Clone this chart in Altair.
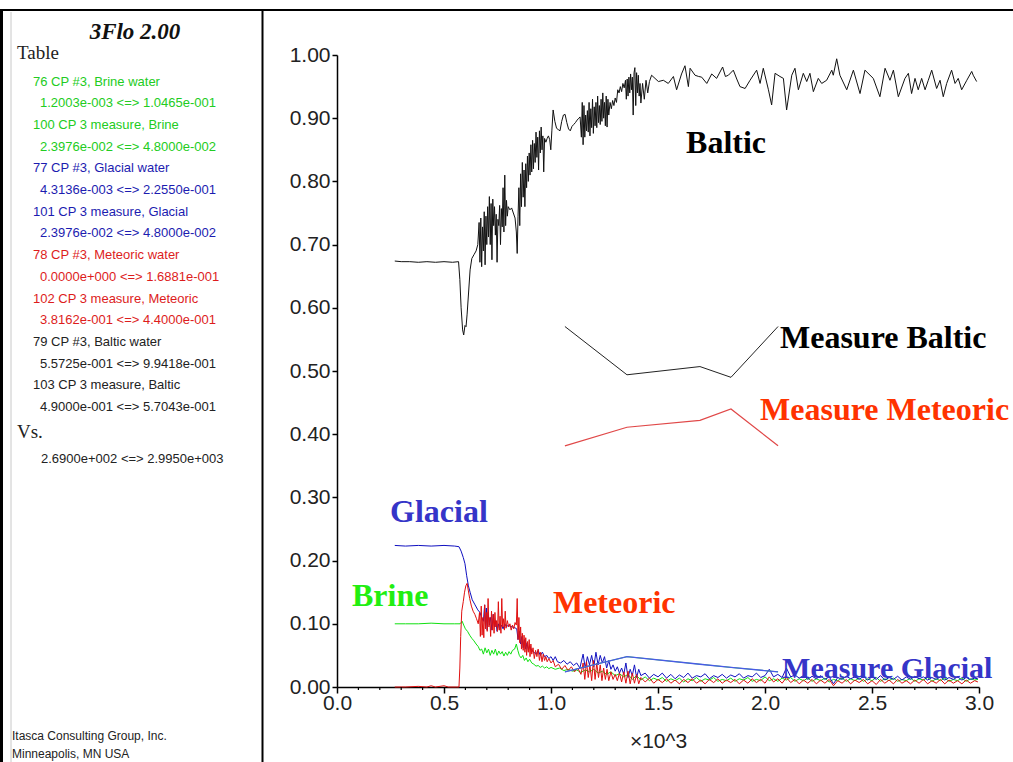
import altair as alt
import pandas as pd

# ---------------- data (x in thousands, y fraction) ----------------
baltic_x = [0.270,0.300,0.340,0.380,0.420,0.460,0.500,0.540,0.568,
            0.574,0.580,0.587,0.592,0.598,0.603,0.608,0.615,0.622,0.630,0.640,0.650,0.658,
            0.664,0.668,0.672,0.676,0.680,0.684,0.688,0.692,0.696,0.700,0.704,0.708,0.712,0.716,0.720,0.724,0.728,0.732,0.736,0.740,0.744,0.748,0.752,0.756,0.760,0.764,0.768,0.772,0.776,0.780,0.784,0.788,0.792,0.796,0.800,0.808,0.816,0.824,0.832,0.838,0.842,0.846,0.850,0.854,0.858,0.862,0.866,0.870,0.874,0.878,0.882,0.886,0.890,0.894,0.898,0.902,0.906,0.910,0.914,0.918,0.922,0.926,0.930,0.934,0.938,0.942,0.946,0.950,0.954,0.958,0.962,0.966,0.970,0.976,0.982,0.988,0.994,0.999,1.004,1.010,1.018,1.026,1.034,1.042,1.050,1.058,1.066,1.074,1.082,1.090,1.098,1.106,1.114,1.122,1.130,1.136,
            1.142,1.146,1.150,1.154,1.158,1.162,1.166,1.170,1.174,1.178,1.182,1.186,1.190,1.194,1.198,1.202,1.206,1.210,1.214,1.218,1.222,1.226,1.230,1.234,1.238,1.242,1.246,1.250,1.254,1.258,1.262,1.266,1.270,1.276,1.282,1.288,1.294,1.300,1.306,1.312,1.318,1.324,1.330,1.336,1.342,1.348,1.352,1.356,1.360,1.364,1.368,1.372,1.376,1.380,1.384,1.388,1.392,1.396,1.400,1.404,1.408,1.412,1.416,
            1.420,1.428,1.436,1.444,1.452,1.460,1.470,1.486,1.502,1.525,1.548,1.572,1.587,1.610,1.626,1.642,1.650,1.673,1.690,1.704,1.728,1.751,1.774,1.802,1.815,1.829,1.852,1.868,1.883,1.907,1.930,1.961,1.977,1.992,2.016,2.031,2.047,2.070,2.086,2.101,2.125,2.140,2.156,2.179,2.195,2.210,2.226,2.249,2.265,2.288,2.312,2.319,2.335,2.350,2.382,2.413,2.444,2.467,2.506,2.537,2.561,2.584,2.600,2.623,2.654,2.670,2.685,2.701,2.716,2.732,2.748,2.763,2.779,2.802,2.818,2.833,2.849,2.872,2.888,2.903,2.919,2.943,2.966,2.973,2.989]
baltic_y = [0.674,0.673,0.673,0.672,0.673,0.672,0.673,0.672,0.673,
            0.645,0.600,0.565,0.557,0.572,0.570,0.590,0.625,0.660,0.678,0.684,0.690,0.700,
            0.735,0.672,0.742,0.665,0.728,0.690,0.752,0.668,0.745,0.700,0.760,0.712,0.776,0.700,0.765,0.676,0.772,0.730,0.760,0.715,0.748,0.672,0.740,0.730,0.762,0.700,0.757,0.728,0.790,0.720,0.810,0.730,0.770,0.745,0.760,0.755,0.758,0.750,0.742,0.720,0.686,0.745,0.790,0.730,0.812,0.760,0.830,0.775,0.818,0.760,0.828,0.790,0.840,0.800,0.845,0.810,0.858,0.815,0.865,0.820,0.860,0.830,0.878,0.838,0.870,0.818,0.880,0.845,0.886,0.850,0.872,0.815,0.868,0.862,0.868,0.872,0.866,0.850,0.880,0.913,0.895,0.884,0.882,0.880,0.895,0.905,0.906,0.893,0.883,0.880,0.887,0.890,0.893,0.897,0.900,0.902,
            0.870,0.925,0.858,0.920,0.870,0.905,0.880,0.912,0.878,0.925,0.872,0.915,0.885,0.930,0.876,0.918,0.888,0.925,0.885,0.935,0.893,0.920,0.890,0.930,0.895,0.940,0.900,0.925,0.888,0.935,0.886,0.930,0.905,0.925,0.915,0.928,0.920,0.932,0.925,0.945,0.940,0.950,0.942,0.955,0.948,0.960,0.930,0.962,0.935,0.965,0.940,0.970,0.945,0.965,0.905,0.972,0.980,0.920,0.972,0.940,0.968,0.935,0.955,
            0.924,0.955,0.930,0.960,0.940,0.958,0.968,0.963,0.958,0.960,0.955,0.966,0.945,0.970,0.983,0.950,0.979,0.968,0.966,0.965,0.955,0.970,0.963,0.981,0.966,0.968,0.976,0.962,0.950,0.947,0.960,0.976,0.955,0.979,0.945,0.921,0.971,0.966,0.963,0.913,0.968,0.979,0.945,0.971,0.958,0.971,0.942,0.963,0.955,0.960,0.976,0.968,0.994,0.968,0.945,0.976,0.939,0.976,0.963,0.934,0.979,0.960,0.976,0.934,0.963,0.971,0.939,0.963,0.945,0.963,0.945,0.960,0.976,0.947,0.960,0.934,0.955,0.976,0.955,0.963,0.945,0.960,0.974,0.968,0.958]

glacial_x = [0.270,0.320,0.380,0.440,0.500,0.550,0.570,0.580,0.590,0.598,0.606,0.614,0.622,0.632,0.645,0.658,0.668,0.676,0.684,0.690,0.694,0.698,0.702,0.706,0.712,0.718,0.724,0.730,0.736,0.742,0.748,0.754,0.760,0.768,0.776,0.784,0.792,0.800,0.810,0.820,0.830,0.840,0.846,0.852,0.858,0.864,0.870,0.876,0.882,0.888,0.894,0.900,0.910,0.920,0.930,0.940,0.950,0.960,0.970,0.980,0.990,1.000,1.010,1.020,1.030,1.045,1.060,1.075,1.090,1.105,1.120,1.135,1.150,1.160,1.170,1.180,1.190,1.200,1.210,1.220,1.230,1.240,1.250,1.260,1.270,1.280,1.290,1.300,1.310,1.320,1.330,1.340,1.350,1.360,1.370,1.380,1.390,1.400,1.410,1.420,1.440,1.460,1.480,1.500,1.520,1.540,1.560,1.580,1.600,1.620,1.640,1.660,1.680,1.700,1.720,1.740,1.760,1.780,1.800,1.820,1.840,1.860,1.880,1.900,1.920,1.940,1.960,1.980,2.000,2.020,2.040,2.060,2.080,2.100,2.120,2.140,2.160,2.180,2.200,2.220,2.240,2.260,2.280,2.300,2.320,2.340,2.360,2.380,2.400,2.420,2.440,2.460,2.480,2.500,2.520,2.540,2.560,2.580,2.600,2.620,2.640,2.660,2.680,2.700,2.720,2.740,2.760,2.780,2.800,2.820,2.840,2.860,2.880,2.900,2.920,2.940,2.960,2.980,2.995]
glacial_y = [0.224,0.223,0.224,0.223,0.224,0.223,0.222,0.215,0.205,0.195,0.176,0.160,0.150,0.138,0.130,0.122,0.118,0.110,0.104,0.130,0.095,0.125,0.090,0.118,0.098,0.110,0.090,0.115,0.095,0.105,0.088,0.100,0.090,0.098,0.092,0.100,0.095,0.098,0.096,0.095,0.094,0.092,0.075,0.088,0.068,0.080,0.062,0.075,0.060,0.070,0.058,0.065,0.058,0.055,0.052,0.058,0.050,0.055,0.048,0.050,0.045,0.048,0.042,0.048,0.040,0.038,0.042,0.036,0.040,0.034,0.038,0.030,0.052,0.030,0.048,0.035,0.050,0.032,0.055,0.035,0.050,0.038,0.048,0.030,0.042,0.028,0.035,0.025,0.032,0.022,0.030,0.020,0.038,0.015,0.028,0.018,0.035,0.015,0.028,0.018,0.022,0.014,0.020,0.016,0.022,0.014,0.020,0.013,0.019,0.015,0.022,0.014,0.018,0.016,0.021,0.013,0.018,0.015,0.020,0.014,0.019,0.016,0.021,0.014,0.018,0.016,0.022,0.015,0.018,0.028,0.016,0.020,0.015,0.030,0.016,0.019,0.014,0.018,0.012,0.017,0.013,0.018,0.012,0.016,0.005,0.015,0.012,0.017,0.013,0.016,0.012,0.017,0.011,0.016,0.012,0.018,0.011,0.015,0.012,0.017,0.011,0.016,0.012,0.017,0.013,0.016,0.011,0.015,0.012,0.016,0.011,0.015,0.012,0.016,0.011,0.015,0.012,0.014,0.013]

brine_x = [0.270,0.320,0.380,0.440,0.500,0.550,0.575,0.585,0.592,0.600,0.610,0.620,0.630,0.640,0.650,0.660,0.668,0.676,0.684,0.692,0.700,0.708,0.716,0.724,0.732,0.740,0.748,0.756,0.764,0.772,0.780,0.788,0.796,0.804,0.812,0.820,0.830,0.838,0.845,0.852,0.860,0.868,0.876,0.884,0.892,0.900,0.910,0.920,0.930,0.940,0.950,0.960,0.970,0.980,0.990,1.000,1.020,1.040,1.060,1.080,1.100,1.120,1.140,1.160,1.180,1.200,1.220,1.240,1.260,1.280,1.300,1.320,1.340,1.360,1.380,1.400,1.420,1.440,1.460,1.480,1.500,1.520,1.540,1.560,1.580,1.600,1.620,1.640,1.660,1.680,1.700,1.720,1.740,1.760,1.780,1.800,1.820,1.840,1.860,1.880,1.900,1.920,1.940,1.960,1.980,2.000,2.020,2.040,2.060,2.080,2.100,2.120,2.140,2.160,2.180,2.200,2.220,2.240,2.260,2.280,2.300,2.320,2.340,2.360,2.380,2.400,2.420,2.440,2.460,2.480,2.500,2.520,2.540,2.560,2.580,2.600,2.620,2.640,2.660,2.680,2.700,2.720,2.740,2.760,2.780,2.800,2.820,2.840,2.860,2.880,2.900,2.920,2.940,2.960,2.980,2.995]
brine_y = [0.100,0.100,0.100,0.101,0.100,0.100,0.100,0.104,0.098,0.092,0.088,0.082,0.077,0.073,0.068,0.064,0.058,0.060,0.052,0.062,0.054,0.060,0.050,0.058,0.052,0.060,0.050,0.057,0.052,0.056,0.049,0.055,0.050,0.056,0.052,0.058,0.060,0.068,0.058,0.050,0.046,0.050,0.042,0.046,0.040,0.044,0.038,0.036,0.033,0.034,0.031,0.033,0.030,0.032,0.029,0.031,0.028,0.030,0.026,0.028,0.025,0.027,0.023,0.027,0.024,0.028,0.022,0.025,0.020,0.024,0.018,0.021,0.016,0.020,0.012,0.018,0.011,0.016,0.010,0.014,0.011,0.015,0.009,0.013,0.010,0.014,0.008,0.013,0.010,0.015,0.009,0.013,0.011,0.015,0.009,0.012,0.010,0.014,0.009,0.013,0.011,0.015,0.009,0.012,0.010,0.016,0.010,0.013,0.009,0.014,0.011,0.015,0.009,0.013,0.010,0.014,0.009,0.013,0.010,0.014,0.008,0.012,0.010,0.014,0.009,0.013,0.010,0.014,0.009,0.013,0.010,0.015,0.009,0.013,0.010,0.014,0.009,0.012,0.010,0.014,0.009,0.013,0.011,0.015,0.009,0.013,0.010,0.014,0.009,0.012,0.010,0.014,0.009,0.013,0.011,0.012]

meteoric_x = [0.270,0.320,0.380,0.420,0.440,0.460,0.500,0.520,0.560,0.570,0.574,0.578,0.583,0.590,0.596,0.602,0.608,0.614,0.620,0.628,0.636,0.644,0.652,0.660,0.666,0.670,0.674,0.678,0.682,0.686,0.690,0.694,0.698,0.702,0.706,0.710,0.714,0.718,0.722,0.726,0.730,0.734,0.738,0.742,0.746,0.750,0.754,0.758,0.762,0.766,0.770,0.774,0.778,0.782,0.786,0.790,0.796,0.802,0.808,0.814,0.820,0.826,0.832,0.838,0.842,0.846,0.850,0.854,0.858,0.862,0.866,0.870,0.874,0.878,0.882,0.886,0.890,0.894,0.898,0.902,0.906,0.910,0.916,0.922,0.928,0.934,0.940,0.946,0.952,0.958,0.964,0.970,0.976,0.982,0.990,1.000,1.010,1.020,1.035,1.050,1.065,1.080,1.095,1.110,1.125,1.140,1.150,1.158,1.166,1.174,1.182,1.190,1.198,1.206,1.214,1.222,1.230,1.238,1.246,1.254,1.262,1.270,1.280,1.290,1.300,1.310,1.320,1.330,1.340,1.350,1.360,1.370,1.380,1.390,1.400,1.410,1.420,1.440,1.460,1.480,1.500,1.520,1.540,1.560,1.580,1.600,1.620,1.640,1.660,1.680,1.700,1.720,1.740,1.760,1.780,1.800,1.820,1.840,1.860,1.880,1.900,1.920,1.940,1.960,1.980,2.000,2.020,2.040,2.060,2.080,2.100,2.120,2.140,2.160,2.180,2.200,2.220,2.240,2.260,2.280,2.300,2.320,2.340,2.360,2.380,2.400,2.420,2.440,2.460,2.480,2.500,2.520,2.540,2.560,2.580,2.600,2.620,2.640,2.660,2.680,2.700,2.720,2.740,2.760,2.780,2.800,2.820,2.840,2.860,2.880,2.900,2.920,2.940,2.960,2.980,2.995]
meteoric_y = [0.000,0.000,0.001,0.000,0.002,0.000,0.002,0.000,0.000,0.000,0.030,0.080,0.120,0.135,0.150,0.160,0.164,0.152,0.140,0.128,0.120,0.115,0.108,0.100,0.118,0.080,0.128,0.082,0.110,0.078,0.130,0.092,0.118,0.088,0.140,0.095,0.110,0.080,0.120,0.090,0.115,0.085,0.118,0.095,0.105,0.088,0.135,0.090,0.112,0.085,0.140,0.095,0.108,0.090,0.120,0.093,0.105,0.095,0.100,0.090,0.098,0.092,0.102,0.098,0.140,0.075,0.110,0.070,0.095,0.060,0.085,0.058,0.082,0.055,0.078,0.050,0.072,0.055,0.075,0.048,0.068,0.052,0.062,0.045,0.058,0.048,0.060,0.042,0.055,0.040,0.052,0.042,0.048,0.040,0.045,0.038,0.042,0.032,0.036,0.028,0.034,0.026,0.032,0.024,0.030,0.020,0.038,0.012,0.040,0.015,0.035,0.010,0.042,0.012,0.038,0.015,0.035,0.010,0.030,0.012,0.028,0.010,0.024,0.012,0.020,0.010,0.022,0.008,0.024,0.006,0.025,0.005,0.022,0.006,0.020,0.005,0.015,0.008,0.014,0.006,0.012,0.007,0.013,0.006,0.011,0.005,0.012,0.007,0.013,0.006,0.011,0.005,0.012,0.007,0.013,0.006,0.011,0.007,0.012,0.005,0.011,0.006,0.013,0.007,0.012,0.006,0.016,0.008,0.013,0.006,0.015,0.007,0.012,0.005,0.011,0.006,0.012,0.005,0.011,0.006,0.012,0.002,0.010,0.006,0.012,0.005,0.011,0.007,0.012,0.005,0.010,0.004,0.012,0.006,0.011,0.005,0.012,0.006,0.010,0.005,0.011,0.006,0.012,0.005,0.010,0.006,0.012,0.005,0.011,0.006,0.010,0.005,0.011,0.006,0.010,0.008]

measure_x = [1.065, 1.355, 1.696, 1.841, 2.061]
measure_baltic = [0.5704, 0.494, 0.507, 0.490, 0.5704]
measure_meteoric = [0.3816, 0.411, 0.422, 0.440, 0.3816]
measure_glacial = [0.024, 0.048, 0.036, 0.031, 0.024]
measure_brine = [0.024, 0.048, 0.036, 0.031, 0.024]

x_ticks = [0.0, 0.5, 1.0, 1.5, 2.0, 2.5, 3.0]
x_minor = [0.1,0.2,0.3,0.4,0.6,0.7,0.8,0.9,1.1,1.2,1.3,1.4,1.6,1.7,1.8,1.9,2.1,2.2,2.3,2.4,2.6,2.7,2.8,2.9]
y_ticks = [0.0, 0.1, 0.2, 0.3, 0.4, 0.5, 0.6, 0.7, 0.8, 0.9, 1.0]

ann_text = ["Baltic", "Measure Baltic", "Measure Meteoric", "Glacial", "Brine", "Meteoric", "Measure Glacial"]
ann_x = [1.631, 2.070, 1.977, 0.248, 0.070, 1.009, 2.080]
ann_y = [0.845, 0.536, 0.4225, 0.261, 0.128, 0.117, 0.0142]
ann_size = [32, 32, 32, 32, 32, 32, 30]
ann_color = ["#000000", "#000000", "#ff3300", "#3535c8", "#22ee11", "#ff3300", "#3535c8"]

panel_lines = [
    ("76 CP #3, Brine water", "#22cc22"),
    ("1.2003e-003 <=> 1.0465e-001", "#22cc22"),
    ("100 CP 3 measure, Brine", "#22cc22"),
    ("2.3976e-002 <=> 4.8000e-002", "#22cc22"),
    ("77 CP #3, Glacial water", "#1c1cb0"),
    ("4.3136e-003 <=> 2.2550e-001", "#1c1cb0"),
    ("101 CP 3 measure, Glacial", "#1c1cb0"),
    ("2.3976e-002 <=> 4.8000e-002", "#1c1cb0"),
    ("78 CP #3, Meteoric water", "#dd1c1c"),
    ("0.0000e+000 <=> 1.6881e-001", "#dd1c1c"),
    ("102 CP 3 measure, Meteoric", "#dd1c1c"),
    ("3.8162e-001 <=> 4.4000e-001", "#dd1c1c"),
    ("79 CP #3, Baltic water", "#222222"),
    ("5.5725e-001 <=> 9.9418e-001", "#222222"),
    ("103 CP 3 measure, Baltic", "#222222"),
    ("4.9000e-001 <=> 5.7043e-001", "#222222"),
]

# ---------------- layout ----------------
W, H = 642, 632
PL, PT = 337, 55

xs = alt.Scale(domain=[0, 3], nice=False, zero=False)
ys = alt.Scale(domain=[0, 1], nice=False, zero=False)
AX_FONT = "Liberation Sans"
x_axis = alt.Axis(values=x_ticks, format=".1f", title="×10^3", grid=False, tickSize=6,
                  labelPadding=-1, labelFont=AX_FONT, labelFontSize=21, labelColor="#222222",
                  titleFont=AX_FONT, titleFontSize=21, titleFontWeight="normal", titleColor="#222222",
                  titlePadding=17, domainColor="#000000", tickColor="#000000", labelFlush=False,
                  labelOverlap=False, domainWidth=1.5, tickWidth=1.5)
y_axis = alt.Axis(values=y_ticks, format=".2f", title=None, grid=False, tickSize=5,
                  labelPadding=2, labelFont=AX_FONT, labelFontSize=21, labelColor="#222222",
                  domainColor="#000000", tickColor="#000000", labelFlush=False, labelOverlap=False,
                  domainWidth=1.5, tickWidth=1.5)
X = alt.X("x:Q", scale=xs, axis=x_axis)
Y = alt.Y("y:Q", scale=ys, axis=y_axis)


def series(xv, yv, color, width=1.0):
    df = pd.DataFrame({"x": xv, "y": yv, "i": list(range(len(xv)))})
    return alt.Chart(df).mark_line(color=color, strokeWidth=width).encode(x=X, y=Y, order="i:Q")


layers = [
    series(brine_x, brine_y, "#11e011"),
    series(glacial_x, glacial_y, "#1010c0"),
    series(meteoric_x, meteoric_y, "#e01010"),
    series(measure_x, measure_brine, "#33dd33"),
    series(measure_x, measure_glacial, "#4a5ae8", 1.3),
    series(measure_x, measure_meteoric, "#e04848", 1.2),
    series(measure_x, measure_baltic, "#222222"),
    series(baltic_x, baltic_y, "#111111"),
]

# minor ticks on x axis
minor = alt.Chart(pd.DataFrame({"x": x_minor})).mark_rule(color="#000000", strokeWidth=1.2).encode(
    x=X, y=alt.value(H), y2=alt.value(H + 3))
layers.append(minor)

ann = pd.DataFrame({"t": ann_text, "x": ann_x, "y": ann_y, "c": ann_color, "s": ann_size})
layers.append(alt.Chart(ann).mark_text(font="Liberation Serif", fontWeight="bold",
                                         align="left", baseline="alphabetic").encode(
    x=X, y=Y, text="t:N", color=alt.Color("c:N", scale=None), size=alt.Size("s:Q", scale=None)))


def label(text, px, py, color="#222222", font="Liberation Sans", size=13.0, weight="normal",
          style="normal", align="left"):
    return alt.Chart(pd.DataFrame({"t": [text]})).mark_text(
        font=font, fontSize=size, fontWeight=weight, fontStyle=style, align=align,
        baseline="alphabetic", color=color).encode(
        x=alt.value(px - PL), y=alt.value(py - PT), text="t:N")


def rule(x1, x2, y1, y2, color, width):
    return alt.Chart(pd.DataFrame({"k": [0]})).mark_rule(color=color, strokeWidth=width).encode(
        x=alt.value(x1 - PL), x2=alt.value(x2 - PL), y=alt.value(y1 - PT), y2=alt.value(y2 - PT))


# frame
layers.append(rule(0, 1013, 10, 10, "#000000", 2))
layers.append(rule(1.5, 1.5, 10, 762, "#000000", 3))
layers.append(rule(262.5, 262.5, 10, 762, "#000000", 2))
layers.append(rule(11, 11, 12, 762, "#c8c8c8", 1))

# left panel
SANS = "Liberation Sans"
layers.append(label("3Flo 2.00", 135, 39, "#111111", "Liberation Serif", 23, "bold", "italic", "center"))
layers.append(label("Table", 17, 59, "#222222", "Liberation Serif", 19))
for k, (txt, col) in enumerate(panel_lines):
    px = 33 if k % 2 == 0 else 40
    layers.append(label(txt, px, 85.5 + 21.7 * k, col, SANS, 13))
layers.append(label("Vs.", 17, 438, "#222222", "Liberation Serif", 19))
layers.append(label("2.6900e+002 <=> 2.9950e+003", 41, 463, "#222222", SANS, 13))
layers.append(label("Itasca Consulting Group, Inc.", 12, 740, "#222222", SANS, 12))
layers.append(label("Minneapolis, MN  USA", 12, 758, "#222222", SANS, 12))

chart = alt.layer(*layers).properties(
    width=W, height=H,
    autosize=alt.AutoSizeParams(type="none"),
    padding={"left": PL, "top": PT, "right": 1013 - PL - W, "bottom": 762 - PT - H},
    background="white",
).configure_view(stroke=None)

chart.save("out.html", embed_options={"renderer": "svg", "actions": False})
